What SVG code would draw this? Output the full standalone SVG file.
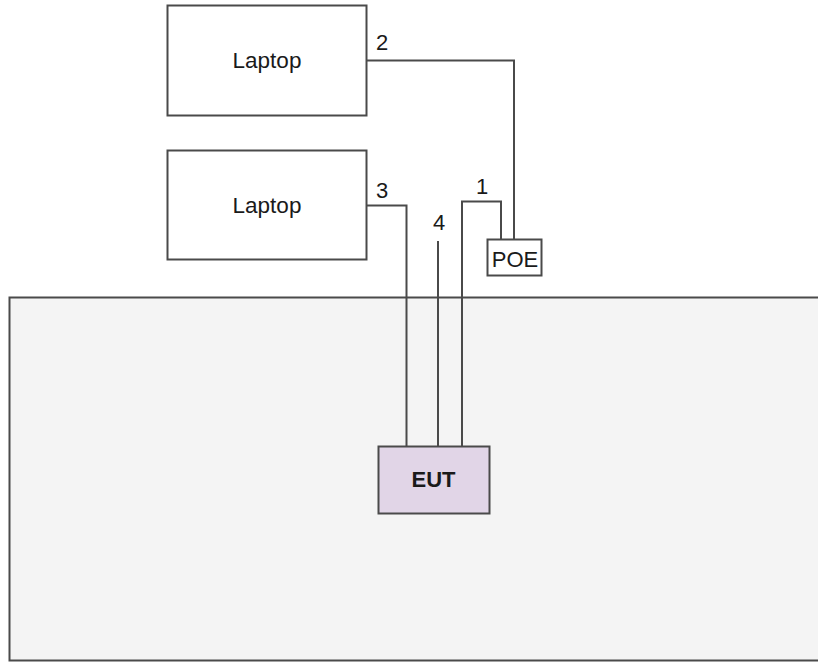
<svg xmlns="http://www.w3.org/2000/svg" width="818" height="663" viewBox="0 0 818 663">
<style>
.box{stroke:#4a4a4a;stroke-width:2;}
.wire{fill:none;stroke:#4a4a4a;stroke-width:2;}
.lbl{font-family:"Liberation Sans",Arial,sans-serif;fill:#1a1a1a;text-anchor:middle;font-size:22px;}
</style>
<rect width="818" height="663" fill="#ffffff"/>
<g id="table">
<rect class="box" x="9.5" y="297.5" width="820" height="363" fill="#f4f4f4"/>
</g>
<g id="connectors">
<polyline class="wire" points="366.5,60.5 514,60.5 514,239.5"/>
<polyline class="wire" points="501,239.5 501,201.5 462,201.5 462,446.5"/>
<polyline class="wire" points="366.5,205.5 406.5,205.5 406.5,446.5"/>
<line class="wire" x1="438" y1="241" x2="438" y2="446.5"/>
<text class="lbl" x="382" y="50">2</text>
<text class="lbl" x="382" y="198">3</text>
<text class="lbl" x="482" y="194">1</text>
<text class="lbl" x="439" y="230">4</text>
</g>
<g id="laptop1">
<rect class="box" x="167.5" y="5.5" width="199" height="110" fill="#ffffff"/>
<text class="lbl" x="267" y="68" style="font-size:22.5px">Laptop</text>
</g>
<g id="laptop2">
<rect class="box" x="167.5" y="150.5" width="199" height="109" fill="#ffffff"/>
<text class="lbl" x="267" y="213" style="font-size:22.5px">Laptop</text>
</g>
<g id="poe">
<rect class="box" x="487.5" y="239.5" width="54" height="36" fill="#ffffff"/>
<text class="lbl" x="515" y="267">POE</text>
</g>
<g id="eut">
<rect class="box" x="378.5" y="446.5" width="111" height="67" fill="#e1d5e7"/>
<text class="lbl" x="433.5" y="487" font-weight="bold">EUT</text>
</g>
</svg>
